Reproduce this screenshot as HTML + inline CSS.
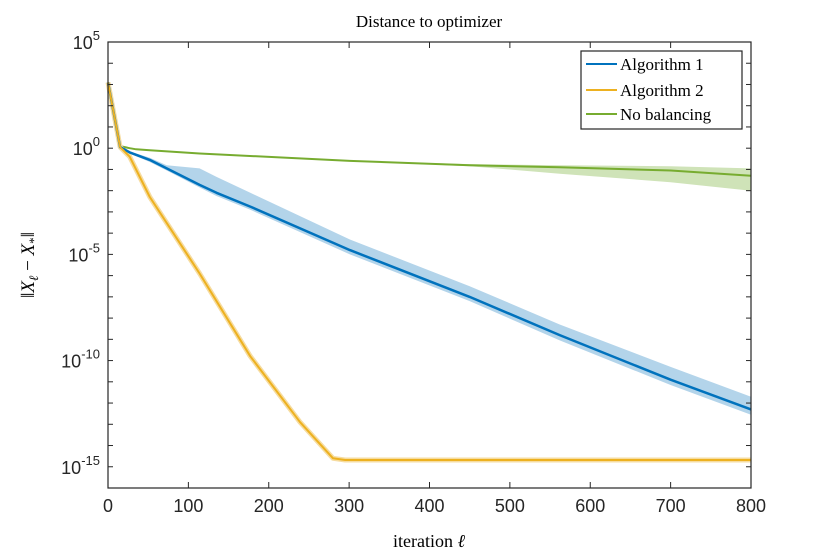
<!DOCTYPE html>
<html><head><meta charset="utf-8"><style>
body{margin:0;background:#fff}
svg text{font-family:"Liberation Sans",sans-serif}
.serif{font-family:"Liberation Serif",serif}
</style></head><body>
<svg width="830" height="554" viewBox="0 0 830 554">
<g id="plot"></g>
</svg>
<script>
const iters=[0,15,27,52,73,114,135,177,301,450,562,700,800];
const alg1=[3.1,0.05,-0.2,-0.55,-0.95,-1.73,-2.1,-2.75,-4.8,-7.0,-8.8,-10.9,-12.3];
const alg1Hi=[3.1,0.05,-0.15,-0.45,-0.8,-0.95,-1.35,-2.1,-4.3,-6.5,-8.3,-10.3,-11.7];
const alg1Lo=[3.1,0.05,-0.25,-0.65,-1.05,-1.85,-2.25,-2.9,-5.0,-7.2,-9.05,-11.15,-12.55];
const alg2Iters=[0,15,27,52,114,177,239,280,295,500,800];
const alg2=[3.1,0.05,-0.4,-2.3,-5.9,-9.8,-12.9,-14.6,-14.68,-14.68,-14.68];
const greenIters=[0,15,27,35,52,114,301,450,562,700,800];
const noBal=[3.1,0.1,0.0,-0.05,-0.1,-0.25,-0.6,-0.8,-0.9,-1.05,-1.3];
const noBalHi=[3.1,0.1,0.0,-0.05,-0.1,-0.25,-0.6,-0.75,-0.8,-0.85,-0.95];
const noBalLo=[3.1,0.1,0.0,-0.05,-0.1,-0.25,-0.6,-0.85,-1.2,-1.6,-2.0];
const xTicks=[0,100,200,300,400,500,600,700,800];
const yTicks=[5,0,-5,-10,-15];
const L=108,R=751,T=42,B=488;
const xS=v=>L+(v)/800*(R-L);
const yS=v=>T+(5-v)/21*(B-T);
const NS="http://www.w3.org/2000/svg";
const g=document.getElementById('plot');
function mk(tag,a,p){const e=document.createElementNS(NS,tag);for(const k in a)e.setAttribute(k,a[k]);(p||g).appendChild(e);return e;}
function pts(xs,ys){return xs.map((x,i)=>xS(x).toFixed(1)+','+yS(ys[i]).toFixed(1));}
function band(xs,hi,lo,fill,name){
  const e=mk('polygon',{points:pts(xs,hi).concat(pts(xs,lo).reverse()).join(' '),fill:fill});
  
  
}
function line(xs,ys,c,name,w){
  const e=mk('polyline',{points:pts(xs,ys).join(' '),fill:'none',stroke:c,'stroke-width':w||2,'stroke-linejoin':'round'});
  
  
}
band(greenIters,noBalHi,noBalLo,'#cfe3b8','no-balancing-band');
band(iters,alg1Hi,alg1Lo,'#b3d4ea','algorithm-1-band');
line(greenIters,noBal,'#77ac30','no-balancing-line');
line(alg2Iters,alg2,'#f6dca0','algorithm-2-band',5);
line(iters,alg1,'#0072bd','algorithm-1-line',2.5);
line(alg2Iters,alg2,'#edb120','algorithm-2-line');
const box=mk('rect',{x:L,y:T,width:R-L,height:B-T,fill:'none',stroke:'#262626','stroke-width':1.2});


xTicks.forEach(v=>{
  const x=xS(v);
  mk('line',{x1:x,x2:x,y1:B,y2:B-6,stroke:'#262626'});
  mk('line',{x1:x,x2:x,y1:T,y2:T+6,stroke:'#262626'});
  const t=mk('text',{x:x,y:B+24,'text-anchor':'middle','font-size':18,fill:'#262626'});
  t.textContent=v;
  
  
});
for(let d=-16;d<=5;d++){
  const y=yS(d);
  mk('line',{x1:L,x2:L+5,y1:y,y2:y,stroke:'#262626'});
  mk('line',{x1:R,x2:R-5,y1:y,y2:y,stroke:'#262626'});
}
yTicks.forEach(v=>{
  const y=yS(v);
  const t=mk('text',{x:L-8,y:y+7,'text-anchor':'end','font-size':18,fill:'#262626'});
  t.innerHTML='10<tspan dy="-9" font-size="13">'+v+'</tspan>';
  
  
});
</script>
<svg style="position:absolute;left:0;top:0" width="830" height="554">
<text class="serif" x="429" y="27" text-anchor="middle" font-size="17" fill="#000">Distance to optimizer</text>
<text class="serif" x="429" y="547" text-anchor="middle" font-size="18" fill="#000">iteration <tspan font-style="italic">ℓ</tspan></text>
<text class="serif" transform="translate(34,265) rotate(-90)" text-anchor="middle" font-size="19" fill="#000">‖<tspan font-style="italic">X</tspan><tspan font-size="13" dy="4" font-style="italic">ℓ</tspan><tspan dy="-4"> − </tspan><tspan font-style="italic">X</tspan><tspan font-size="13" dy="4">*</tspan><tspan dy="-4">‖</tspan></text>
<g>
<rect x="581" y="51" width="161" height="78" fill="#fff" stroke="#262626" stroke-width="1.2"/>
<line x1="586" y1="64" x2="617" y2="64" stroke="#0072bd" stroke-width="2"/>
<text class="serif" x="620" y="70" font-size="17">Algorithm 1</text>
<line x1="586" y1="90" x2="617" y2="90" stroke="#edb120" stroke-width="2"/>
<text class="serif" x="620" y="96" font-size="17">Algorithm 2</text>
<line x1="586" y1="114" x2="617" y2="114" stroke="#77ac30" stroke-width="2"/>
<text class="serif" x="620" y="120" font-size="17">No balancing</text>
</g>
</svg>
</body></html>
